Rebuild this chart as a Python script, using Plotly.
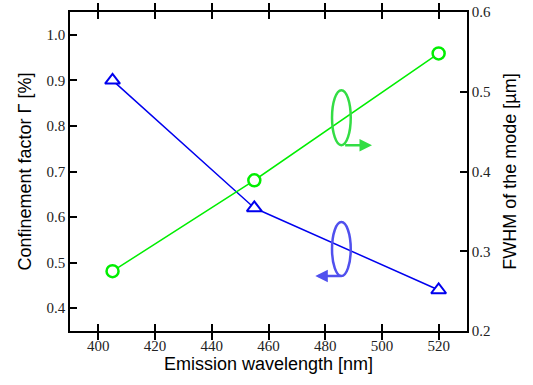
import plotly.graph_objects as go

wavelength = [405, 455, 520]
confinement = [0.90, 0.62, 0.44]
fwhm = [0.275, 0.389, 0.548]

blue = "#0000ee"
green = "#00ee00"

fig = go.Figure()
fig.add_trace(go.Scatter(
    x=wavelength, y=confinement, mode="lines+markers", yaxis="y",
    line=dict(color=blue, width=1.5),
    marker=dict(symbol="triangle-up", size=13, color="white",
                line=dict(color=blue, width=2)),
    showlegend=False))
fig.add_trace(go.Scatter(
    x=wavelength, y=fwhm, mode="lines+markers", yaxis="y2",
    line=dict(color=green, width=1.5),
    marker=dict(symbol="circle", size=12, color="white",
                line=dict(color=green, width=2.5)),
    showlegend=False))

tickfont = dict(family="Liberation Serif", size=15, color="#222")
titlefont = dict(family="Liberation Sans", size=18, color="black")

common = dict(ticks="inside", ticklen=7, tickwidth=1.5, tickcolor="black",
              showline=True, linecolor="black", linewidth=1.5,
              showgrid=False, zeroline=False, tickfont=tickfont, automargin=False)

fig.update_layout(
    width=533, height=385,
    margin=dict(l=70, r=66, t=12, b=54),
    plot_bgcolor="white", paper_bgcolor="white",
    xaxis=dict(range=[390, 530], dtick=20, tick0=400, mirror="allticks",
               title=dict(text="Emission wavelength [nm]", font=titlefont, standoff=2),
               **common),
    yaxis=dict(range=[0.35, 1.05], dtick=0.1, tick0=0.4, tickformat=".1f",
               title=dict(text="Confinement factor Γ [%]", font=titlefont, standoff=10),
               **common),
    yaxis2=dict(range=[0.2, 0.6], dtick=0.1, tick0=0.2, tickformat=".1f",
                overlaying="y", side="right",
                title=dict(text="FWHM of the mode [µm]", font=titlefont, standoff=13),
                **common),
)

# Ellipse + arrow indicators
fig.add_shape(type="circle", xref="x", yref="y2", x0=482.4, x1=489.0, y0=0.433, y1=0.502,
              line=dict(color="#33dd44", width=2.5), fillcolor="rgba(0,0,0,0)")
fig.add_annotation(x=496.5, y=0.433, ax=486.5, ay=0.433, xref="x", yref="y2",
                   axref="x", ayref="y2", text="", showarrow=True, arrowhead=2,
                   arrowsize=1, arrowwidth=2.5, arrowcolor="#33dd44")
fig.add_shape(type="circle", xref="x", yref="y", x0=482.4, x1=489.0, y0=0.4705, y1=0.589,
              line=dict(color="#5050ee", width=2.5), fillcolor="rgba(0,0,0,0)")
fig.add_annotation(x=476.5, y=0.4705, ax=486.0, ay=0.4705, xref="x", yref="y",
                   axref="x", ayref="y", text="", showarrow=True, arrowhead=2,
                   arrowsize=1, arrowwidth=2.5, arrowcolor="#5050ee")

fig.write_html("out.html", config={"displayModeBar": False},
               post_script="document.body.style.margin='0';")
